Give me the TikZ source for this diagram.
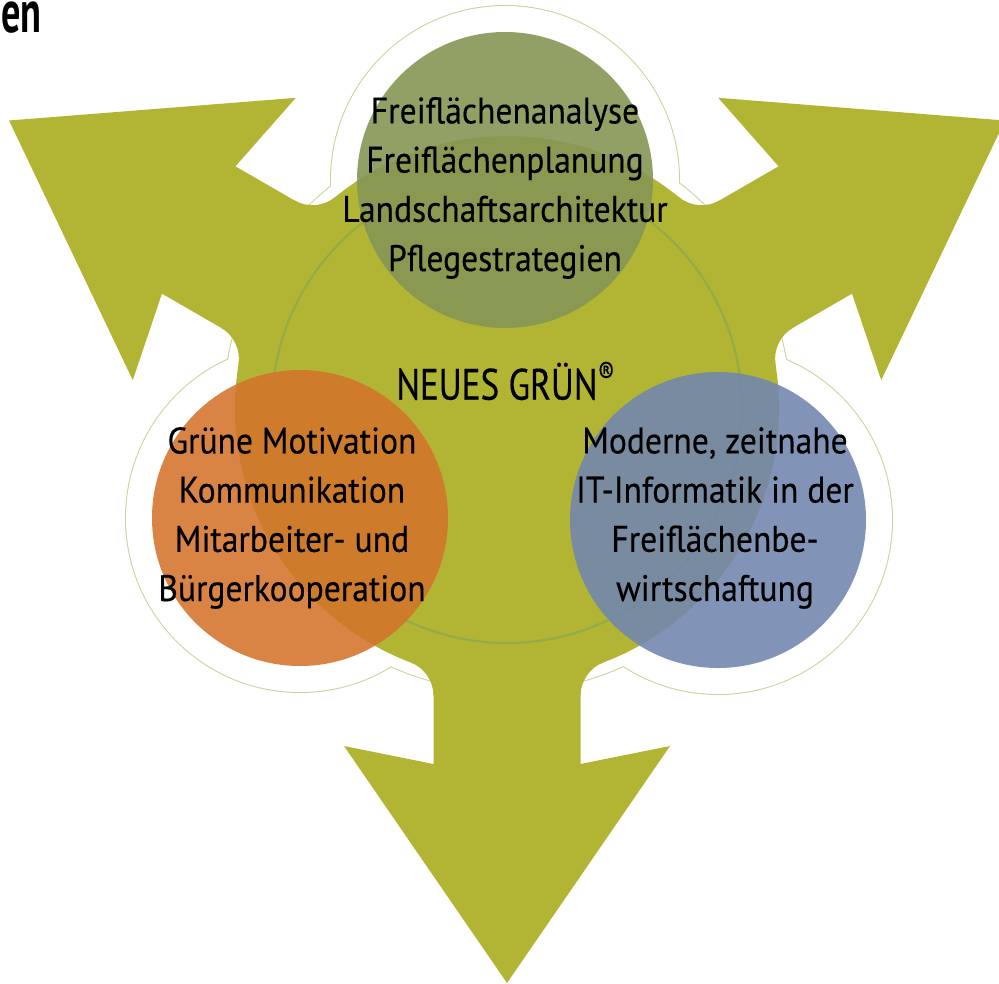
\documentclass[tikz,border=0pt]{standalone}
\usepackage{fontspec}
\usepackage{tikz}
\newfontfamily\diafont{PT Sans}[FakeStretch=0.91,FakeBold=0.35]
\newfontfamily\corefont{PT Sans}[FakeStretch=0.80,FakeBold=0.35]
\newfontfamily\titlefont{PT Sans Bold}[FakeStretch=0.64]
\definecolor{arrowolive}{RGB}{178,181,52}
\definecolor{haloline}{RGB}{205,207,150}
\definecolor{innerline}{RGB}{145,172,72}
\definecolor{plangreen}{RGB}{134,151,85}
\definecolor{motivorange}{RGB}{212,116,44}
\definecolor{infoblue}{RGB}{112,134,175}

\begin{document}
\begin{tikzpicture}[x=0.02cm,y=0.02cm,
  txt/.style={font=\diafont\fontsize{21}{28}\selectfont,align=center,inner sep=0pt},
  halo/.style={line width=1.1pt,draw=haloline,fill=white}]
\useasboundingbox (0,0) rectangle (999,-983);

\coordinate (mid) at (507,-408);
\coordinate (pc) at (505,-180);
\coordinate (mc) at (300,-518);
\coordinate (ic) at (718,-520);

% white halo behind everything
\foreach \c/\r in {mid/283,pc/174,mc/174,ic/174} \draw[halo] (\c) circle (\r);
\foreach \c/\r in {mid/283,pc/174,mc/174,ic/174} \fill[white] (\c) circle (\r);

% olive disc with three arrows
\fill[arrowolive] (mid) circle (272);
\foreach \a in {150,30,-90}{
  \begin{scope}[shift={(mid)},rotate=\a]
  \fill[arrowolive] (0,-73.5) -- (356,-73.5) -- (338,-163) -- (575,0) -- (338,163) -- (356,73.5) -- (0,73.5) -- cycle;
  \fill[arrowolive] (287.9,73.5) arc[start angle=270,end angle=200.8,radius=36] -- (250,60) -- cycle;
  \fill[arrowolive] (287.9,-73.5) arc[start angle=90,end angle=159.2,radius=36] -- (250,-60) -- cycle;
  \end{scope}}

\draw[innerline,line width=1.2pt] (mid) circle (235);

% the three circles
\fill[plangreen,opacity=0.9] (pc) circle (148);
\fill[motivorange,opacity=0.88] (mc) circle (148);
\fill[infoblue,opacity=0.88] (ic) circle (148);

\node[txt] (plan) at (505,-188) {Freiflächenanalyse\\Freiflächenplanung\\Landschaftsarchitektur\\Pflegestrategien};
\node[txt] (motiv) at (292,-518) {Grüne Motivation\\Kommunikation\\Mitarbeiter- und\\Bürgerkooperation};
\node[txt] (infor) at (715,-518) {Moderne, zeitnahe\\IT-Informatik in der\\Freiflächenbe-\\wirtschaftung};
\node[txt,font=\corefont\fontsize{25}{28}\selectfont] (core) at (506,-381) {NEUES GRÜN\textsuperscript{®}};
\node[font=\titlefont\fontsize{34}{36}\selectfont,anchor=base west,inner sep=0pt] (title) at (1,-33) {en};
\end{tikzpicture}
\end{document}
